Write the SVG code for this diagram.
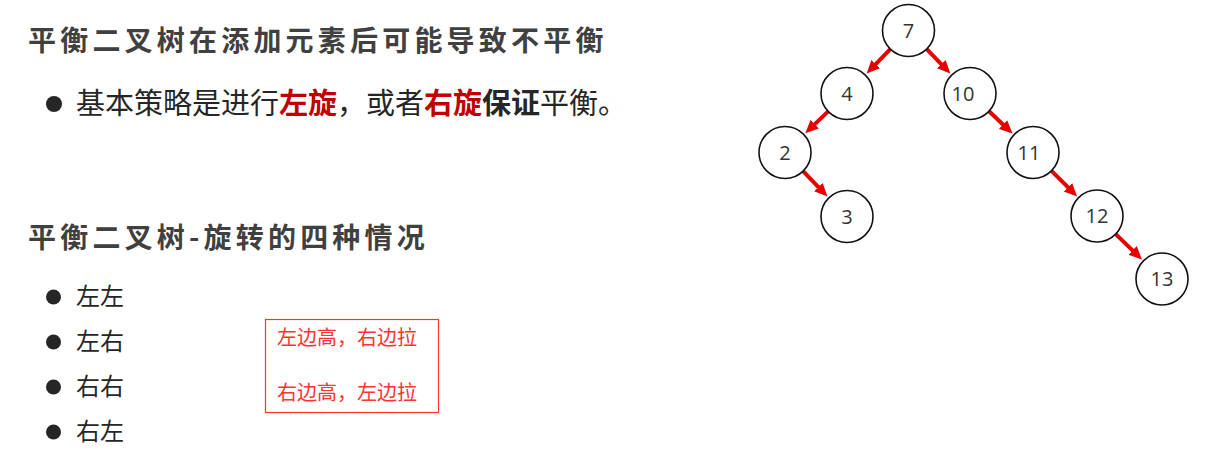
<svg xmlns="http://www.w3.org/2000/svg" width="1211" height="473" viewBox="0 0 1211 473">
<style>
.t{font-family:"Noto Sans CJK SC","Liberation Sans",sans-serif;}
.h{font-size:28px;font-weight:bold;fill:#404040;letter-spacing:4.2px;}
.b{font-size:29px;fill:#262626;}
.li{font-size:24px;fill:#262626;}
.rb{font-weight:bold;fill:#c00000;}
.kb{font-weight:bold;}
.note{font-size:20px;fill:#ff3333;}
.dot{fill:#262626;}
.node circle{fill:#fff;stroke:#111;stroke-width:1.6;}
.node text{font-family:"Open Sans","Noto Sans",sans-serif;font-size:20px;fill:#333;text-anchor:middle;}
.edge{stroke:#e60000;stroke-width:4;fill:none;marker-end:url(#ah);}
</style>
<defs>
<marker id="ah" markerUnits="userSpaceOnUse" markerWidth="14" markerHeight="14" viewBox="0 0 14 14" refX="1" refY="7" orient="auto">
<path d="M0,1 L13,7 L0,13 z" fill="#e60000"/>
</marker>
</defs>
<rect width="1211" height="473" fill="#fff"/>
<g id="text-left">
<text class="t h" x="28" y="51">平衡二叉树在添加元素后可能导致不平衡</text>
<circle class="dot" cx="54" cy="104" r="8"/>
<text class="t b" x="76" y="114">基本策略是进行<tspan class="rb">左旋</tspan>，或者<tspan class="rb">右旋</tspan><tspan class="kb">保证</tspan>平衡。</text>
<text class="t h" x="28" y="248">平衡二叉树-旋转的四种情况</text>
<circle class="dot" cx="53.5" cy="297" r="7.5"/>
<text class="t li" x="76" y="305">左左</text>
<circle class="dot" cx="53.5" cy="342" r="7.5"/>
<text class="t li" x="76" y="350">左右</text>
<circle class="dot" cx="53.5" cy="387" r="7.5"/>
<text class="t li" x="76" y="395">右右</text>
<circle class="dot" cx="53.5" cy="432" r="7.5"/>
<text class="t li" x="76" y="440">右左</text>
</g>
<g id="note-box">
<rect x="265.5" y="319.5" width="173" height="93" fill="none" stroke="#ff3333" stroke-width="1.2"/>
<text class="t note" x="277" y="345">左边高，右边拉</text>
<text class="t note" x="277" y="400">右边高，左边拉</text>
</g>
<g id="connectors">
<path class="edge" d="M890.3,49.1 L875.0,64.9"/>
<path class="edge" d="M926.7,49.1 L942.0,64.9"/>
<path class="edge" d="M828.2,111.4 L814.0,124.9"/>
<path class="edge" d="M989.0,111.3 L1003.8,125.2"/>
<path class="edge" d="M803.1,171.2 L819.1,187.8"/>
<path class="edge" d="M1051.5,170.8 L1068.6,187.9"/>
<path class="edge" d="M1115.7,234.1 L1133.3,251.1"/>
</g>
<g id="node-7" class="node"><circle cx="908.5" cy="30.5" r="26"/><text x="908.5" y="37.5">7</text></g>
<g id="node-4" class="node"><circle cx="847" cy="93.5" r="26"/><text x="847" y="100.5">4</text></g>
<g id="node-10" class="node"><circle cx="970" cy="93.5" r="26"/><text x="963" y="100.5">10</text></g>
<g id="node-2" class="node"><circle cx="785" cy="152.5" r="26"/><text x="785" y="159.5">2</text></g>
<g id="node-3" class="node"><circle cx="847" cy="216.5" r="26"/><text x="847" y="223.5">3</text></g>
<g id="node-11" class="node"><circle cx="1033" cy="152.5" r="26"/><text x="1029" y="159.5">11</text></g>
<g id="node-12" class="node"><circle cx="1097" cy="216" r="26"/><text x="1097" y="223">12</text></g>
<g id="node-13" class="node"><circle cx="1162" cy="279" r="26"/><text x="1162" y="286">13</text></g>
</svg>
